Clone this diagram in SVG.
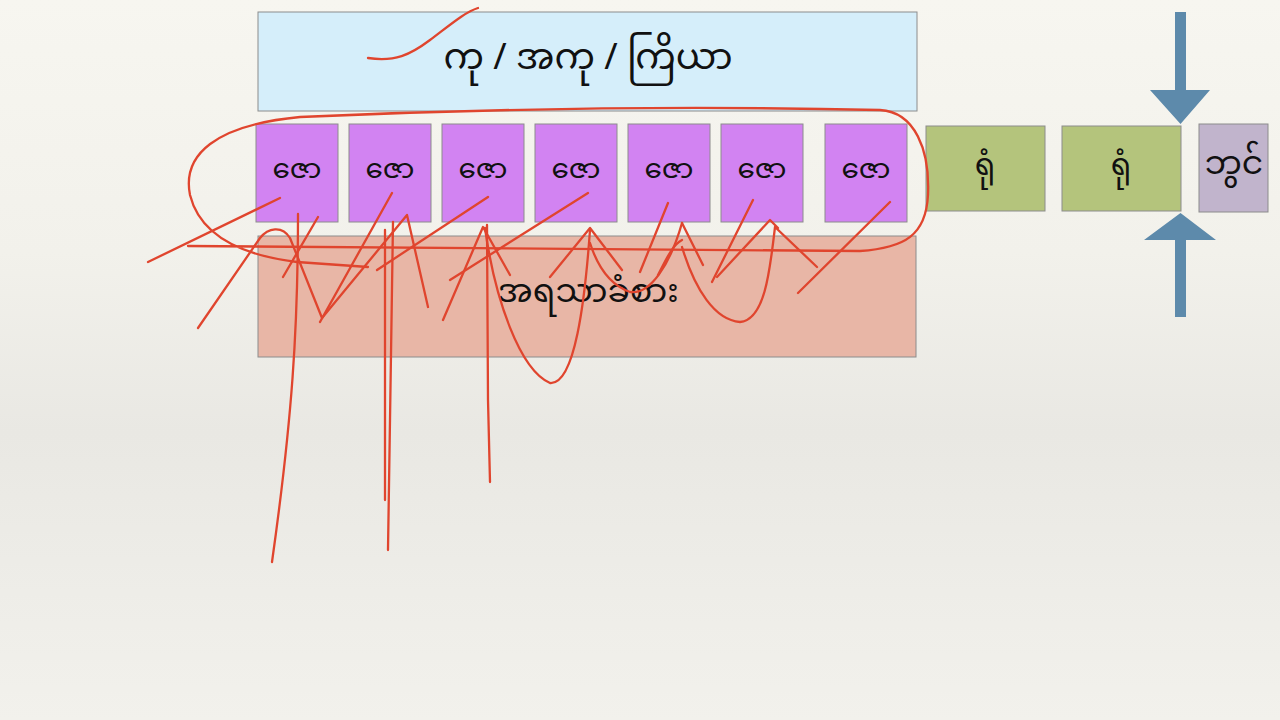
<svg xmlns="http://www.w3.org/2000/svg" width="1280" height="720" viewBox="0 0 1280 720">
<defs>
<linearGradient id="bg" x1="0" y1="0" x2="0" y2="1">
<stop offset="0" stop-color="#f7f6f0"/>
<stop offset="0.35" stop-color="#f2f1eb"/>
<stop offset="0.6" stop-color="#e9e8e3"/>
<stop offset="1" stop-color="#f2f1ec"/>
</linearGradient>
<style>
.box{stroke:#8c8c8c;stroke-width:1}
.t{font-family:"Noto Sans Myanmar","Padauk","Myanmar Text","Noto Sans",sans-serif;fill:#111;text-anchor:middle;dominant-baseline:central}
.pink{fill:#d283f2}
.green{fill:#b4c47c}
.ink{fill:none;stroke:#e0452e;stroke-width:2.3;stroke-linecap:round;stroke-linejoin:round}
.arrow{fill:#5d8aab}
</style>
</defs>
<rect width="1280" height="720" fill="url(#bg)"/>

<g id="top">
<rect class="box" x="258" y="12" width="659" height="99" fill="#d5eefa"/>
<text class="t" x="588" y="60" font-size="36">ကု / အကု / ကြိယာ</text>
</g>

<g id="zo1"><rect class="box pink" x="256" y="124" width="82" height="98"/><text class="t" x="297" y="171" font-size="28">ဇော</text></g>
<g id="zo2"><rect class="box pink" x="349" y="124" width="82" height="98"/><text class="t" x="390" y="171" font-size="28">ဇော</text></g>
<g id="zo3"><rect class="box pink" x="442" y="124" width="82" height="98"/><text class="t" x="483" y="171" font-size="28">ဇော</text></g>
<g id="zo4"><rect class="box pink" x="535" y="124" width="82" height="98"/><text class="t" x="576" y="171" font-size="28">ဇော</text></g>
<g id="zo5"><rect class="box pink" x="628" y="124" width="82" height="98"/><text class="t" x="669" y="171" font-size="28">ဇော</text></g>
<g id="zo6"><rect class="box pink" x="721" y="124" width="82" height="98"/><text class="t" x="762" y="171" font-size="28">ဇော</text></g>
<g id="zo7"><rect class="box pink" x="825" y="124" width="82" height="98"/><text class="t" x="866" y="171" font-size="28">ဇော</text></g>

<g id="yon1"><rect class="box green" x="926" y="126" width="119" height="85"/><text class="t" x="985" y="168" font-size="30">ရုံ</text></g>
<g id="yon2"><rect class="box green" x="1062" y="126" width="119" height="85"/><text class="t" x="1121" y="168" font-size="30">ရုံ</text></g>
<g id="bhavanga"><rect class="box" x="1199" y="124" width="69" height="88" fill="#c1b4cc"/><text class="t" x="1234" y="166" font-size="33">ဘွင်</text></g>

<g id="taste">
<rect class="box" x="258" y="236" width="658" height="121" fill="#e8b6a6"/>
<text class="t" x="588" y="294" font-size="33">အရသာခံစား</text>
</g>

<g id="connectors">
<polygon class="arrow" points="1175,12 1186,12 1186,90 1210,90 1180.5,124 1150,90 1175,90"/>
<polygon class="arrow" points="1180.5,213 1216,240 1186,240 1186,317 1175,317 1175,240 1144,240"/>
</g>

<g id="annotations">
<path class="ink" d="M368,58 C395,62 410,55 430,40 C450,25 465,12 478,8"/>
<path class="ink" d="M368,267 L297,262 C240,255 200,235 190,195 C182,155 215,125 300,117 C500,108 700,106 880,110 C915,112 930,150 928,195 C926,235 905,248 860,251 L188,246"/>
<path class="ink" d="M148,262 L280,198"/>
<path class="ink" d="M198,328 L260,238 C268,228 282,225 290,238 L322,318 L407,215 L428,307"/>
<path class="ink" d="M283,277 L318,217"/>
<path class="ink" d="M320,322 L392,193"/>
<path class="ink" d="M298,214 C298,330 292,420 272,562"/>
<path class="ink" d="M385,230 L385,500"/>
<path class="ink" d="M393,222 L390,420 L388,550"/>
<path class="ink" d="M377,270 L488,197"/>
<path class="ink" d="M487,225 L488,400 L490,482"/>
<path class="ink" d="M443,320 L483,227 L510,275"/>
<path class="ink" d="M450,280 L588,193"/>
<path class="ink" d="M485,228 C495,300 520,370 550,383 C575,385 585,300 590,230"/>
<path class="ink" d="M550,277 L590,228 L622,270"/>
<path class="ink" d="M590,243 C598,268 610,285 630,292 C650,295 670,265 682,223"/>
<path class="ink" d="M640,272 L668,203"/>
<path class="ink" d="M658,275 C665,262 672,245 682,240"/>
<path class="ink" d="M682,223 L703,265"/>
<path class="ink" d="M712,282 L753,200"/>
<path class="ink" d="M682,247 C695,290 715,320 740,322 C765,320 770,270 775,227 L817,267"/>
<path class="ink" d="M717,277 L770,220 L778,228"/>
<path class="ink" d="M798,293 L890,202"/>
</g>
</svg>
